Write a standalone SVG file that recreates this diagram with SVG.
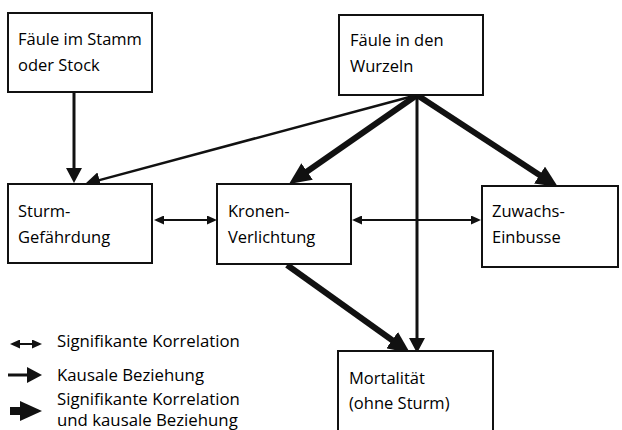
<svg xmlns="http://www.w3.org/2000/svg" width="622" height="430" viewBox="0 0 622 430">
<style>
.box{fill:#fff;stroke:#111;stroke-width:2}
.t{font-family:"Open Sans","Liberation Sans",sans-serif;font-size:16.5px;fill:#000}
.lt{font-family:"Open Sans","Liberation Sans",sans-serif;font-size:16.8px;fill:#000}
.c{fill:none;stroke:#111;stroke-linecap:butt}
.m{stroke-width:3;marker-end:url(#hm)}
.k{stroke-width:2.5;marker-end:url(#hm)}
.l{stroke-width:6;marker-end:url(#hl)}
.d{stroke-width:2;marker-start:url(#hs);marker-end:url(#hs)}
</style>
<defs>
<marker id="hm" markerUnits="userSpaceOnUse" markerWidth="16" markerHeight="16" refX="3" refY="8" orient="auto-start-reverse"><path d="M0,0 L15,8 L0,16 z" fill="#111"/></marker>
<marker id="hl" markerUnits="userSpaceOnUse" markerWidth="22" markerHeight="20" refX="4" refY="10" orient="auto-start-reverse"><path d="M0,0 L22,10 L0,20 z" fill="#111"/></marker>
<marker id="hs" markerUnits="userSpaceOnUse" markerWidth="10" markerHeight="9" refX="2" refY="4.5" orient="auto-start-reverse"><path d="M0,0 L10,4.5 L0,9 z" fill="#111"/></marker>
</defs>
<rect width="622" height="430" fill="#fff"/>
<g id="connectors">
<path class="c m" d="M74,93 L74,171"/>
<path class="c k" d="M417,95 L96.6,180.9"/>
<path class="c l" d="M417,95 L303.8,173.7"/>
<path class="c m" d="M417,95 L417,341"/>
<path class="c l" d="M417,95 L542.9,177.2"/>
<path class="c l" d="M287,265 L395.4,342.5"/>
<path class="c d" d="M162,220 L209,220"/>
<path class="c d" d="M360,220 L473,220"/>
</g>
<g id="n-stamm"><rect class="box" x="8" y="13" width="144" height="79"/><text class="t" x="18" y="45">Fäule im Stamm</text><text class="t" x="18" y="71">oder Stock</text></g>
<g id="n-wurzeln"><rect class="box" x="339" y="15" width="144" height="80"/><text class="t" x="350" y="46">Fäule in den</text><text class="t" x="350" y="72">Wurzeln</text></g>
<g id="n-sturm"><rect class="box" x="8" y="184" width="144" height="79"/><text class="t" x="18" y="217">Sturm-</text><text class="t" x="18" y="243">Gefährdung</text></g>
<g id="n-kronen"><rect class="box" x="217" y="184" width="134" height="80"/><text class="t" x="228" y="217">Kronen-</text><text class="t" x="228" y="243">Verlichtung</text></g>
<g id="n-zuwachs"><rect class="box" x="482" y="186" width="136" height="81"/><text class="t" x="492" y="217">Zuwachs-</text><text class="t" x="492" y="243">Einbusse</text></g>
<g id="n-mortalitaet"><rect class="box" x="338" y="351" width="155" height="90"/><text class="t" x="349" y="384">Mortalität</text><text class="t" x="349" y="409">(ohne Sturm)</text></g>
<g id="legend">
<path class="c d" d="M18,344 L34,344"/>
<path class="c" style="stroke-width:3;marker-end:url(#hm)" d="M8,375 L30,375"/>
<path class="c" style="stroke-width:8;marker-end:url(#hl)" d="M10,411 L24,411"/>
<text class="lt" x="57" y="347">Signifikante Korrelation</text>
<text class="lt" x="57" y="381">Kausale Beziehung</text>
<text class="lt" x="57" y="405">Signifikante Korrelation</text>
<text class="lt" x="57" y="426">und kausale Beziehung</text>
</g>
</svg>
